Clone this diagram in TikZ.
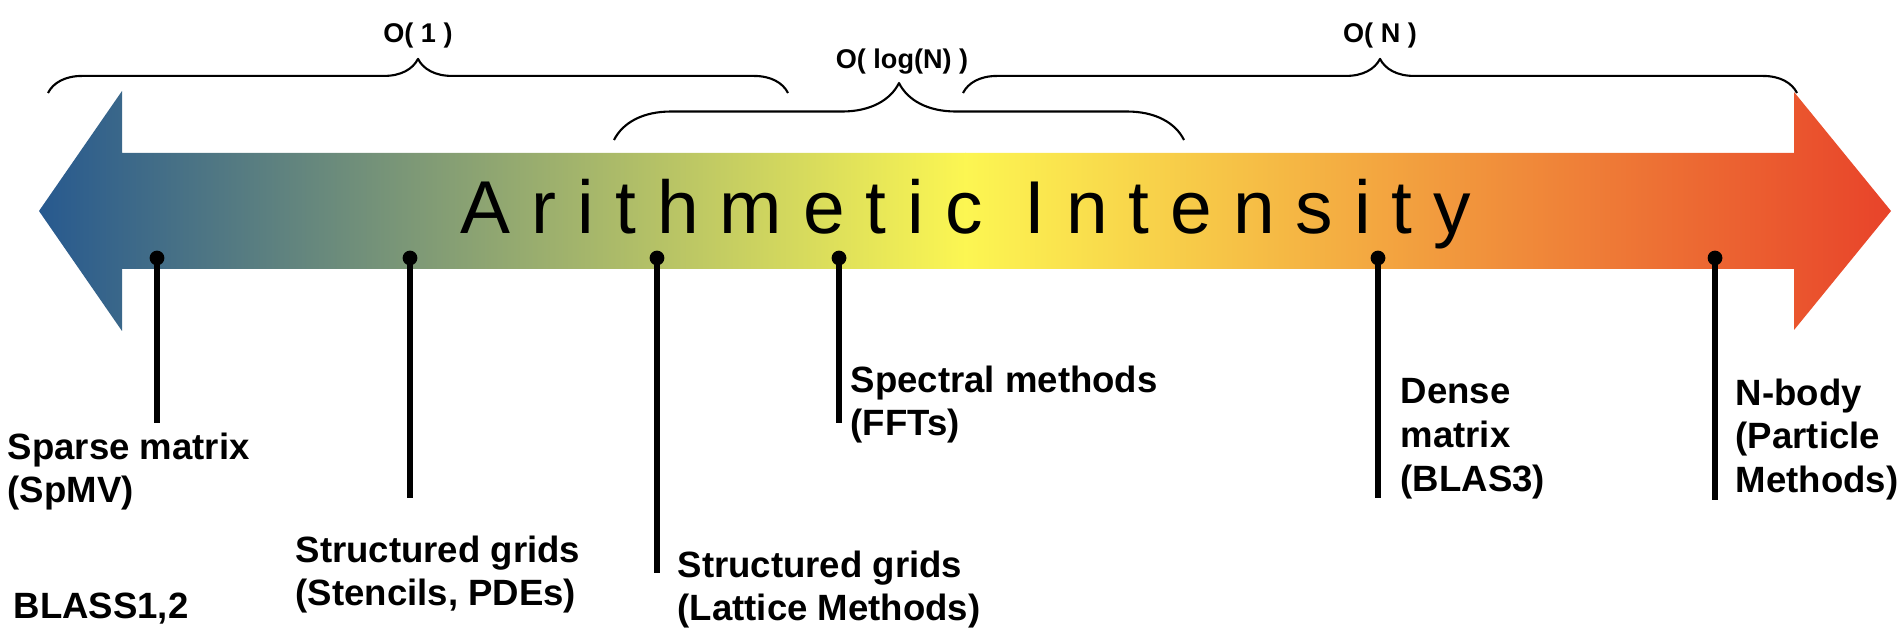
\documentclass[tikz,border=0pt]{standalone}
\usepackage{fontspec}
\setmainfont{Liberation Sans}
\newfontfamily\titlefont[LetterSpace=28]{Liberation Sans}
\usetikzlibrary{decorations.pathreplacing}
\definecolor{aiblue}{HTML}{27598F}
\definecolor{aigreen}{HTML}{84A95A}
\definecolor{aiyellow}{HTML}{FCF652}
\definecolor{aiorange}{HTML}{EF9536}
\definecolor{aired}{HTML}{E8432A}
\begin{document}
\begin{tikzpicture}[x=0.01cm,y=-0.01cm,line join=round,
    brc/.style={decorate,line width=0.6pt,decoration={brace,amplitude=#1}},
    stem/.style={line width=1.5pt},
    lbl/.style={anchor=north west,inner sep=0pt,align=left,font=\fontsize{10.4}{12.4}\selectfont\bfseries},
    order/.style={anchor=base,inner sep=0pt,font=\fontsize{7.7}{9}\selectfont\bfseries}]
	\useasboundingbox (0,0) rectangle (1898,640);
	% the shaded double arrow
	\begin{scope}
		\clip (39,211) -- (122,91) -- (122,153) -- (1794,153) -- (1794,92) -- (1891,211)
			-- (1794,330) -- (1794,269) -- (122,269) -- (122,331) -- cycle;
		\shade[left color=aiblue,middle color=aigreen,right color=aiyellow] (38,90) rectangle (966,332);
		\shade[left color=aiyellow,middle color=aiorange,right color=aired] (965,90) rectangle (1892,332);
	\end{scope}
	\node[anchor=base,inner sep=0pt,font=\titlefont\fontsize{21.3}{24}\selectfont] (title) at (966,234) {Arithmetic Intensity};
	% braces
	\coordinate (b1l) at (48,93); \coordinate (b1r) at (788,93);
	\coordinate (b2l) at (614,140); \coordinate (b2r) at (1184,140);
	\coordinate (b3l) at (963,93); \coordinate (b3r) at (1797,93);
	\draw[brc=9.7pt] (b1l) -- (b1r);
	\draw[brc=16.2pt] (b2l) -- (b2r);
	\draw[brc=9.7pt] (b3l) -- (b3r);
	\node[order] (o1) at (418,43) {O( 1 )};
	\node[order] (olog) at (902,69) {O( log(N) )};
	\node[order] (on) at (1380,43) {O( N )};
	% stems
	\foreach \n/\x/\e in {sp/157/423, st/410/498, la/657/573, fft/839/423, de/1378/498, nb/1715/500}{
		\coordinate (\n top) at (\x,258);
		\coordinate (\n end) at (\x,\e);
		\draw[stem] (\n top) -- (\n end);
		\fill (\n top) circle (2.1pt);
	}
	\node[lbl] (sparse) at (7,432) {Sparse matrix\\(SpMV)};
	\node[lbl] (stencil) at (295,535) {Structured grids\\(Stencils, PDEs)};
	\node[lbl] (lattice) at (677,550) {Structured grids\\(Lattice Methods)};
	\node[lbl] (spectral) at (850,365) {Spectral methods\\(FFTs)};
	\node[lbl] (dense) at (1400,378) {Dense\\matrix\\(BLAS3)};
	\node[lbl] (nbody) at (1735,378) {N-body\\(Particle\\Methods)};
	\node[lbl] (blass) at (13,592) {BLASS1,2};
\end{tikzpicture}
\end{document}
